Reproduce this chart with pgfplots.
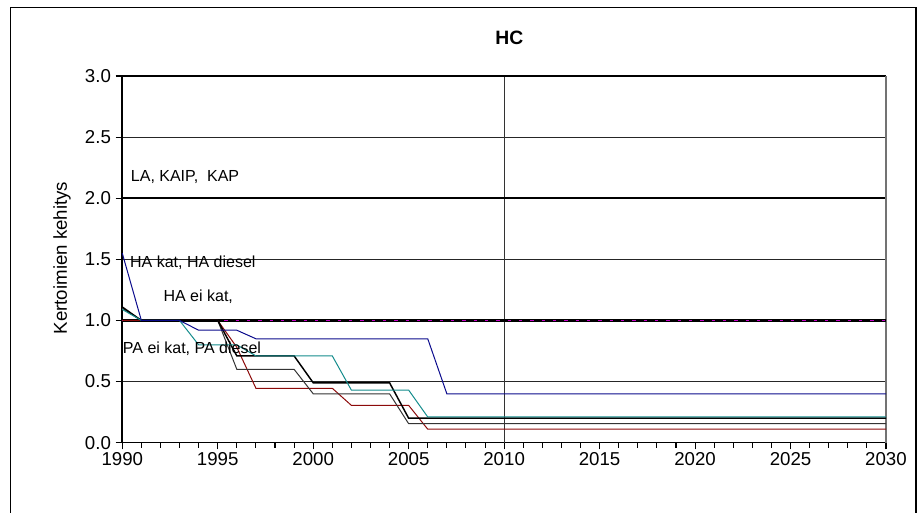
\documentclass[border=0pt]{standalone}
\usepackage{fontspec}
\setmainfont{Liberation Sans}
\usepackage{pgfplots}
\pgfplotsset{compat=1.18}

\definecolor{navy}{RGB}{10,10,140}
\definecolor{tealc}{RGB}{20,140,140}
\definecolor{darkred}{RGB}{140,10,10}
\definecolor{magc}{RGB}{200,0,200}

\begin{document}
\begin{tikzpicture}
% page = 922 x 513 px, 1 px = 0.75pt
\path[use as bounding box] (0,0) rectangle (691.5pt,-384.75pt);
\draw[line width=0.9pt] (8pt,-390pt) -- (8pt,-5.5pt) -- (687pt,-5.5pt) -- (687pt,-390pt);

\node[font=\bfseries\fontsize{14.5}{16}\selectfont] at (382pt,-28.5pt) {HC};
\node[rotate=90,font=\fontsize{14}{16}\selectfont] at (46.5pt,-193.5pt) {Kertoimien kehitys};

\begin{axis}[
  at={(91.7pt,-332pt)}, anchor=south west,
  scale only axis, width=572.8pt, height=275pt,
  xmin=1990, xmax=2030, ymin=0, ymax=3,
  axis x line*=bottom, axis y line*=left,
  axis line style={line width=1.2pt, -},
  xtick={1990,1995,...,2030}, minor x tick num=4,
  ytick={0,0.5,...,3},
  tick align=outside, tick pos=left,
  major tick length=5pt, minor tick length=4pt,
  tick style={black, line width=0.8pt},
  ymajorgrids, major grid style={black!85, line width=0.6pt},
  extra x ticks={2010},
  extra x tick style={grid=major, major tick length=0pt, xticklabels={}, major grid style={black!80, line width=0.8pt}},
  extra y ticks={1,2,3},
  extra y tick style={grid=major, major tick length=0pt, yticklabels={}, major grid style={black, line width=1.1pt}},
  ticklabel style={font=\fontsize{14}{16}\selectfont},
  /pgf/number format/assume math mode=true,
  xticklabel style={/pgf/number format/1000 sep={}, yshift=1.5pt},
  yticklabel style={/pgf/number format/.cd, fixed, fixed zerofill, precision=1},
  every axis plot/.append style={no marks, line width=0.75pt},
  clip=false,
]
% right edge line
\draw[black!55, line width=1.3pt] (axis cs:2030,0) -- (axis cs:2030,3);
% constant reference series at 1.0
\addplot[black, line width=1.6pt] coordinates {(1990,1.0) (2030,1.0)};
\addplot[magc, dash pattern=on 2.5pt off 6pt, line width=0.9pt] coordinates {(1990,1.0) (2030,1.0)};
% red
\addplot[darkred] coordinates {(1990,1.0) (1995,1.0) (1996,0.78) (1997,0.445) (2001,0.445) (2002,0.305) (2005,0.305) (2006,0.11) (2030,0.11)};
% dark grey / black 2
\addplot[black!80] coordinates {(1990,1.10) (1991,1.0) (1995,1.0) (1996,0.60) (1999,0.60) (2000,0.40) (2004,0.40) (2005,0.155) (2030,0.155)};
% black 1
\addplot[black, line width=1.1pt] coordinates {(1990,1.11) (1991,1.0) (1995,1.0) (1996,0.71) (1999,0.71) (2000,0.49) (2004,0.49) (2005,0.20) (2030,0.20)};
% teal
\addplot[tealc] coordinates {(1990,1.09) (1991,1.0) (1993,1.0) (1994,0.80) (1996,0.80) (1997,0.71) (2001,0.71) (2002,0.43) (2005,0.43) (2006,0.21) (2030,0.21)};
% blue
\addplot[navy] coordinates {(1990,1.55) (1991,1.0) (1993,1.0) (1994,0.92) (1996,0.92) (1997,0.85) (2006,0.85) (2007,0.40) (2030,0.40)};

\node[anchor=west, font=\fontsize{12}{14}\selectfont, inner sep=0pt] at (axis cs:1990.44,2.177) {LA, KAIP,\ \ KAP};
\node[anchor=west, font=\fontsize{12}{14}\selectfont, inner sep=0pt] at (axis cs:1990.40,1.473) {HA kat, HA diesel};
\node[anchor=west, font=\fontsize{12}{14}\selectfont, inner sep=0pt] at (axis cs:1992.15,1.195) {HA ei kat,};
\node[anchor=west, font=\fontsize{12}{14}\selectfont, inner sep=0pt] at (axis cs:1990.02,0.772) {PA ei kat, PA diesel};
\end{axis}
\end{tikzpicture}
\end{document}
